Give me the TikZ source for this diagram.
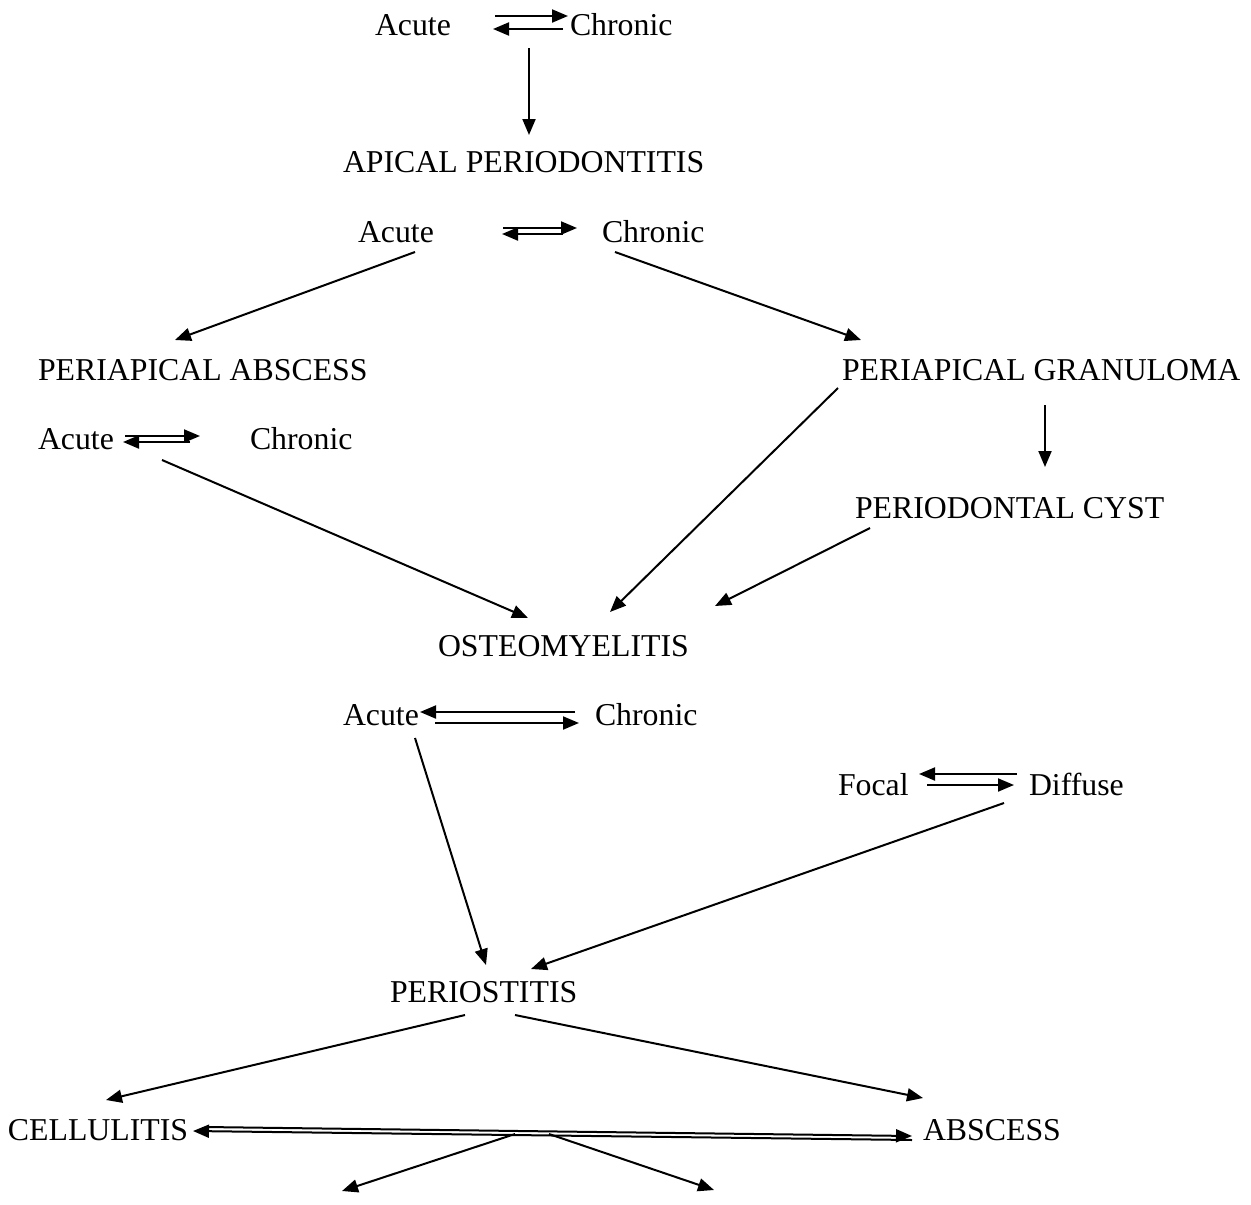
\documentclass[tikz,border=0pt]{standalone}
\usepackage{fontspec}
\setmainfont{Liberation Serif}
\usetikzlibrary{arrows.meta}
\begin{document}
\begin{tikzpicture}[x=1pt,y=-1pt,
  lbl/.style={inner sep=0pt,outer sep=0pt,anchor=base west,font=\fontsize{31.8}{36}\selectfont},
  arr/.style={line width=2pt,-{Triangle[length=16pt,width=13pt]}}]
\useasboundingbox (0,0) rectangle (1251,1205);
\fill[white] (0,0) rectangle (1251,1205);
% labels
\node[lbl] (ac1) at (375,35) {Acute};
\node[lbl] (ch1) at (570,35) {Chronic};
\node[lbl] (api) at (343,172) {APICAL PERIODONTITIS};
\node[lbl] (ac2) at (358,242) {Acute};
\node[lbl] (ch2) at (602,242) {Chronic};
\node[lbl] (pab) at (38,380) {PERIAPICAL ABSCESS};
\node[lbl] (pgr) at (842,380) {PERIAPICAL GRANULOMA};
\node[lbl] (ac3) at (38,449) {Acute};
\node[lbl] (ch3) at (250,449) {Chronic};
\node[lbl] (cyst) at (855,518) {PERIODONTAL CYST};
\node[lbl] (ost) at (438,656) {OSTEOMYELITIS};
\node[lbl] (ac4) at (343,725) {Acute};
\node[lbl] (ch4) at (595,725) {Chronic};
\node[lbl] (foc) at (838,795) {Focal};
\node[lbl] (dif) at (1029,795) {Diffuse};
\node[lbl] (per) at (390,1002) {PERIOSTITIS};
\node[lbl] (cel) at (8,1140) {CELLULITIS};
\node[lbl] (abs) at (923,1140) {ABSCESS};
% endpoints
\coordinate (d1a) at (495,16); \coordinate (d1b) at (568,16);
\coordinate (d1c) at (563,29); \coordinate (d1d) at (493,29);
\coordinate (v1a) at (529,48); \coordinate (v1b) at (529,135);
\coordinate (d2a) at (503,228); \coordinate (d2b) at (577,228);
\coordinate (d2c) at (563,234); \coordinate (d2d) at (502,234);
\coordinate (e1a) at (415,252); \coordinate (e1b) at (175,340);
\coordinate (e2a) at (615,252); \coordinate (e2b) at (861,340);
\coordinate (d3a) at (125,436); \coordinate (d3b) at (200,436);
\coordinate (d3c) at (190,442); \coordinate (d3d) at (123,442);
\coordinate (e3a) at (162,460); \coordinate (e3b) at (528,618);
\coordinate (e4a) at (838,388); \coordinate (e4b) at (610,612);
\coordinate (v2a) at (1045,405); \coordinate (v2b) at (1045,467);
\coordinate (e5a) at (870,528); \coordinate (e5b) at (715,606);
\coordinate (d4a) at (575,712); \coordinate (d4b) at (420,712);
\coordinate (d4c) at (435,723); \coordinate (d4d) at (579,723);
\coordinate (e6a) at (415,738); \coordinate (e6b) at (486,965);
\coordinate (d5a) at (1017,774); \coordinate (d5b) at (919,774);
\coordinate (d5c) at (927,785); \coordinate (d5d) at (1014,785);
\coordinate (e7a) at (1004,803); \coordinate (e7b) at (531,969);
\coordinate (e8a) at (465,1015); \coordinate (e8b) at (106,1100);
\coordinate (e9a) at (515,1015); \coordinate (e9b) at (923,1098);
\coordinate (d6a) at (205,1127); \coordinate (d6b) at (912,1136);
\coordinate (d6c) at (912,1140); \coordinate (d6d) at (193,1131);
\coordinate (e10a) at (515,1134); \coordinate (e10b) at (342,1191);
\coordinate (e11a) at (549,1134); \coordinate (e11b) at (714,1190);
% connectors
\draw[arr] (d1a) -- (d1b);
\draw[arr] (d1c) -- (d1d);
\draw[arr] (v1a) -- (v1b);
\draw[arr] (d2a) -- (d2b);
\draw[arr] (d2c) -- (d2d);
\draw[arr] (e1a) -- (e1b);
\draw[arr] (e2a) -- (e2b);
\draw[arr] (d3a) -- (d3b);
\draw[arr] (d3c) -- (d3d);
\draw[arr] (e3a) -- (e3b);
\draw[arr] (e4a) -- (e4b);
\draw[arr] (v2a) -- (v2b);
\draw[arr] (e5a) -- (e5b);
\draw[arr] (d4a) -- (d4b);
\draw[arr] (d4c) -- (d4d);
\draw[arr] (e6a) -- (e6b);
\draw[arr] (d5a) -- (d5b);
\draw[arr] (d5c) -- (d5d);
\draw[arr] (e7a) -- (e7b);
\draw[arr] (e8a) -- (e8b);
\draw[arr] (e9a) -- (e9b);
\draw[arr] (d6a) -- (d6b);
\draw[arr] (d6c) -- (d6d);
\draw[arr] (e10a) -- (e10b);
\draw[arr] (e11a) -- (e11b);
\end{tikzpicture}
\end{document}
